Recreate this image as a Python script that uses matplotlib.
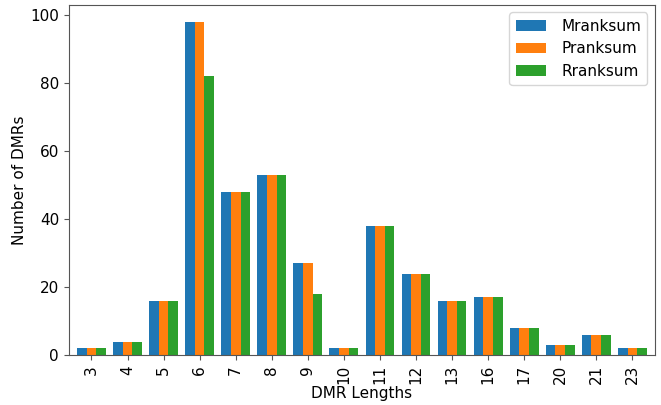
import matplotlib
matplotlib.use('Agg')
import matplotlib.pyplot as plt
import numpy as np

lengths = ['3', '4', '5', '6', '7', '8', '9', '10', '11', '12', '13', '16', '17', '20', '21', '23']
mranksum = [2, 4, 16, 98, 48, 53, 27, 2, 38, 24, 16, 17, 8, 3, 6, 2]
pranksum = [2, 4, 16, 98, 48, 53, 27, 2, 38, 24, 16, 17, 8, 3, 6, 2]
rranksum = [2, 4, 16, 82, 48, 53, 18, 2, 38, 24, 16, 17, 8, 3, 6, 2]

plt.rcParams['font.size'] = 11

fig = plt.figure(figsize=(6.61, 4.05), dpi=100)
ax = fig.add_axes([0.104, 0.123, 0.887, 0.865])

x = np.arange(len(lengths))
w = 0.8 / 3
ax.bar(x - w, mranksum, w, label='Mranksum', color='#1f77b4')
ax.bar(x, pranksum, w, label='Pranksum', color='#ff7f0e')
ax.bar(x + w, rranksum, w, label='Rranksum', color='#2ca02c')

ax.set_xticks(x)
ax.set_xticklabels(lengths, rotation=90)
ax.set_xlim(-0.63, len(lengths) - 0.37)
ax.set_ylim(0, 103)
ax.set_xlabel('DMR Lengths', labelpad=1)
ax.set_ylabel('Number of DMRs', labelpad=2)
for s in ax.spines.values():
    s.set_color('#555555')
ax.tick_params(color='#555555')
ax.legend(loc='upper right', handletextpad=1.0)

fig.savefig('out.png')
